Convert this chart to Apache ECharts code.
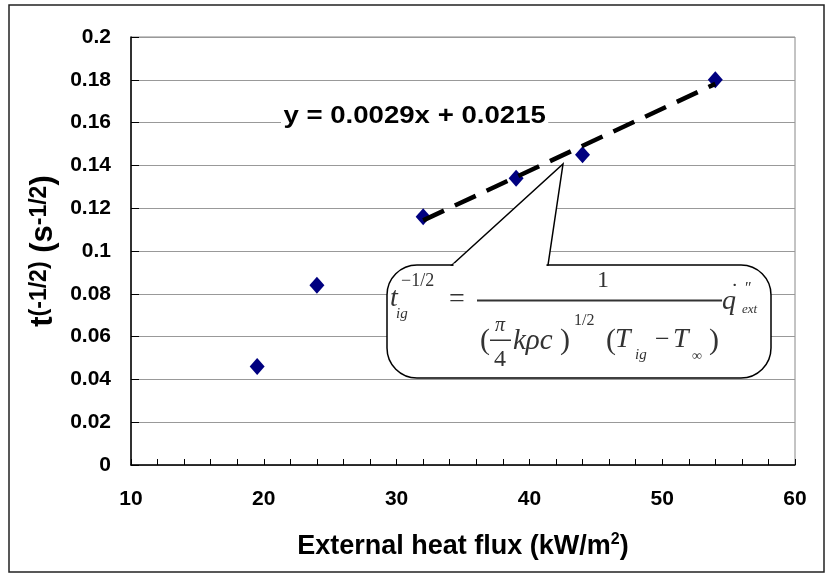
<!DOCTYPE html>
<html><head><meta charset="utf-8">
<script src="https://cdn.jsdelivr.net/npm/echarts@6/dist/echarts.min.js"></script>
<style>html,body{margin:0;padding:0;background:#fff}#c{width:831px;height:574px}</style>
</head><body><div id="c"></div>
<script>
// ---- data ----
const heatFlux = [19.5, 24, 32, 39, 44, 54];          // kW/m2
const tInvSqrt = [0.046, 0.084, 0.116, 0.134, 0.145, 0.180];
const trendX = [32, 54];
const trendY = [0.1143, 0.1781];
const xTicks = [10, 20, 30, 40, 50, 60];
const yTicks = [0, 0.02, 0.04, 0.06, 0.08, 0.1, 0.12, 0.14, 0.16, 0.18, 0.2];
const equationText = 'y = 0.0029x + 0.0215';

const SANS = '"Liberation Sans", Arial, sans-serif';
const SERIF = '"Liberation Serif", "Times New Roman", serif';
const chart = echarts.init(document.getElementById('c'), null, {renderer: 'canvas'});

function ft(text, x, y, size, opts) {
  opts = opts || {};
  return {
    type: 'text', x: x, y: y, z: 20, silent: true,
    style: {
      text: text, fill: '#333', fontFamily: SERIF,
      fontSize: size, fontStyle: opts.italic === false ? 'normal' : 'italic',
      align: opts.align || 'left', verticalAlign: 'middle'
    }
  };
}

// formula pieces (annotation, pixel placed)
const formula = [
  ft('t', 390, 299, 28),
  ft('ig', 396, 314, 15),
  ft('\u22121/2', 401, 281, 18, {italic: false}),
  ft('=', 449, 300, 28, {italic: false}),
  {type: 'rect', z: 20, silent: true, shape: {x: 477, y: 299.5, width: 245, height: 2}, style: {fill: '#333'}},
  ft('1', 603, 281, 24, {italic: false, align: 'center'}),
  ft('(', 480, 341, 30, {italic: false}),
  ft('\u03c0', 500, 326, 20, {align: 'center'}),
  {type: 'rect', z: 20, silent: true, shape: {x: 490, y: 339.5, width: 21, height: 1.5}, style: {fill: '#333'}},
  ft('4', 500, 360, 24, {italic: false, align: 'center'}),
  ft('k\u03c1c', 513, 341, 29),
  ft(')', 560, 341, 30, {italic: false}),
  ft('1/2', 574, 321, 16, {italic: false}),
  ft('(', 606, 341, 30, {italic: false}),
  ft('T', 615, 340, 28),
  ft('ig', 635, 355, 15),
  ft('\u2212', 655, 340, 26, {italic: false}),
  ft('T', 673, 340, 28),
  ft('\u221e', 692, 356, 14, {italic: false}),
  ft(')', 709, 341, 30, {italic: false}),
  ft('q', 722, 302, 28),
  ft('\u02d9', 731, 292, 22, {italic: false}),
  ft('\u2033', 745, 289, 16, {italic: false}),
  ft('ext', 742, 310, 13)
];

const option = {
  backgroundColor: '#fff',
  animation: false,
  grid: {left: 131, right: 36, top: 37, bottom: 109, show: true, borderColor: '#888', borderWidth: 1, backgroundColor: 'transparent'},
  xAxis: {
    type: 'value', min: xTicks[0], max: xTicks[xTicks.length - 1], interval: xTicks[1] - xTicks[0],
    name: 'External heat flux (kW/m{sup|2})',
    nameLocation: 'middle', nameGap: 67,
    nameTextStyle: {
      fontFamily: SANS, fontWeight: 'bold', fontSize: 27, color: '#000',
      rich: {sup: {fontFamily: SANS, fontWeight: 'bold', fontSize: 16, color: '#000', verticalAlign: 'top', padding: [0, 0, 14, 0]}}
    },
    axisLine: {lineStyle: {color: '#000', width: 1.5}},
    axisTick: {inside: true, length: 6, lineStyle: {color: '#000'}},
    minorTick: {show: true, splitNumber: 5, length: 6, lineStyle: {color: '#000'}},
    splitLine: {show: false},
    axisLabel: {fontFamily: SANS, fontWeight: 'bold', fontSize: 21, color: '#000', margin: 24,
      formatter: function (v) { return String(v); }}
  },
  yAxis: {
    type: 'value', min: yTicks[0], max: yTicks[yTicks.length - 1], interval: yTicks[1] - yTicks[0],
    name: '{b|t}{sup|(-1/2)}{b| (s}{sup|-1/2}{b|)}',
    nameLocation: 'middle', nameGap: 69, nameRotate: 90,
    nameTextStyle: {
      rich: {
        b: {fontFamily: SANS, fontWeight: 'bold', fontSize: 31, color: '#000', verticalAlign: 'bottom'},
        sup: {fontFamily: SANS, fontWeight: 'bold', fontSize: 23, color: '#000', verticalAlign: 'top'}
      }
    },
    axisLine: {show: true, lineStyle: {color: '#000', width: 1.5}},
    axisTick: {show: true, inside: true, length: 8, lineStyle: {color: '#000'}},
    splitLine: {show: true, lineStyle: {color: '#999', width: 1}},
    axisLabel: {fontFamily: SANS, fontWeight: 'bold', fontSize: 21, color: '#000', margin: 20,
      formatter: function (v) { return String(+v.toFixed(2)); }}
  },
  series: [
    {
      type: 'scatter', name: 'data', z: 3,
      data: heatFlux.map(function (x, i) { return [x, tInvSqrt[i]]; }),
      symbol: 'diamond', symbolSize: [15, 17],
      itemStyle: {color: '#000080', opacity: 1}
    },
    {
      type: 'line', name: 'trend', z: 4,
      data: trendX.map(function (x, i) { return [x, trendY[i]]; }),
      symbol: 'none',
      lineStyle: {color: '#000', width: 4.5, type: [23, 12]}
    }
  ],
  graphic: [
    {type: 'rect', silent: true, z: -1, shape: {x: 9, y: 5, width: 815, height: 567}, style: {fill: 'none', stroke: '#222', lineWidth: 1.5}},
    {type: 'rect', silent: true, z: 10, shape: {x: 387, y: 265, width: 384, height: 113, r: 30}, style: {fill: '#fff', stroke: '#000', lineWidth: 1.5}},
    {type: 'polygon', silent: true, z: 11, shape: {points: [[452, 265], [563, 164], [548, 265]]}, style: {fill: '#fff', stroke: '#000', lineWidth: 1.5}},
    {type: 'rect', silent: true, z: 12, shape: {x: 453.5, y: 263.5, width: 93, height: 3.5}, style: {fill: '#fff'}},
    {
      type: 'text', silent: true, z: 10, x: 281, y: 117, scaleX: 1.2,
      style: {text: equationText, fontFamily: SANS, fontWeight: 'bold', fontSize: 23, fill: '#000',
        align: 'left', verticalAlign: 'middle', backgroundColor: '#fff', padding: [0, 2, 0, 2]}
    }
  ].concat(formula)
};
chart.setOption(option);
</script>
</body></html>
